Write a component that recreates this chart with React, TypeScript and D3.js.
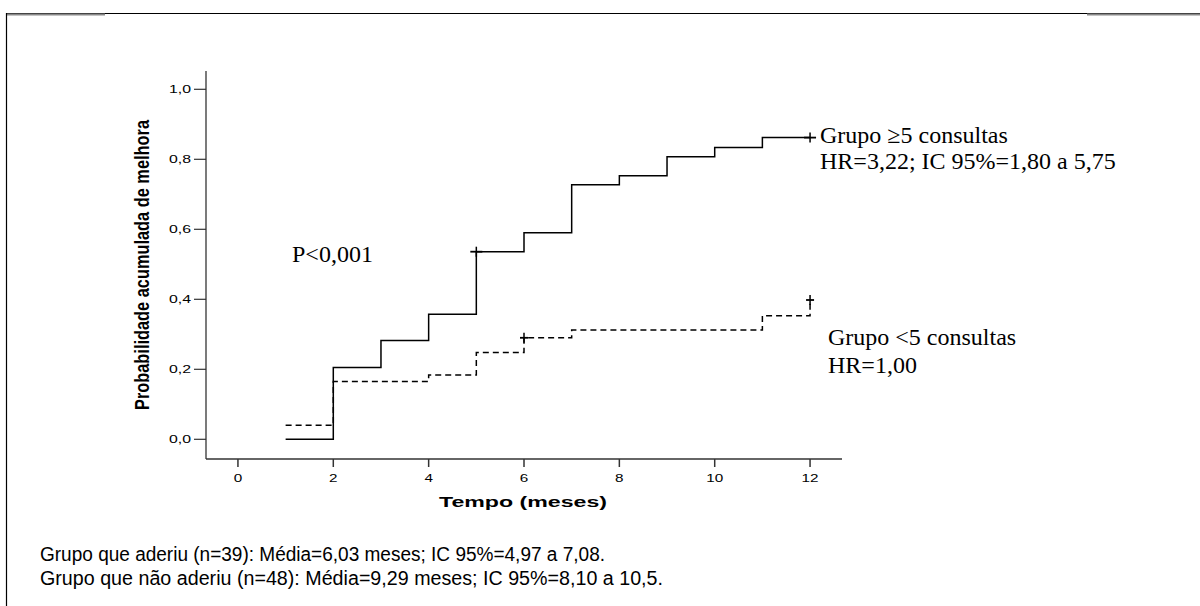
import React, { useEffect, useRef } from "react";
import * as d3 from "d3";

// Kaplan-Meier: probabilidade acumulada de melhora por mês
const months = [1, 2, 3, 4, 5, 6, 7, 8, 9, 10, 11, 12];
const grupoMais5 = [0, 0.205, 0.282, 0.357, 0.536, 0.59, 0.727, 0.753, 0.807, 0.834, 0.862, 0.862];
const grupoMenos5 = [0.04, 0.165, 0.165, 0.184, 0.248, 0.29, 0.312, 0.312, 0.312, 0.312, 0.353, 0.398];
const censorMais5 = [5, 12];
const censorMenos5 = [6, 12];

const xTicks = [0, 2, 4, 6, 8, 10, 12];
const yTicks = [0, 0.2, 0.4, 0.6, 0.8, 1.0];
const yTickLabels = ["0,0", "0,2", "0,4", "0,6", "0,8", "1,0"];

const footLines = [
  "Grupo que aderiu (n=39): Média=6,03 meses; IC 95%=4,97 a 7,08.",
  "Grupo que não aderiu (n=48): Média=9,29 meses; IC 95%=8,10 a 10,5.",
];
const footWidths = [565, 623];

const App = () => {
  const ref = useRef<SVGSVGElement>(null);

  useEffect(() => {
    const svg = d3.select(ref.current);
    svg.selectAll("*").remove();

    const axisColor = "#333";
    const sans = "'Liberation Sans', Arial, sans-serif";
    const serif = "'Liberation Serif', 'Times New Roman', serif";

    // frame
    svg.append("line").attr("x1", 6).attr("x2", 1200).attr("y1", 13.5).attr("y2", 13.5)
      .attr("stroke", "#000").attr("stroke-width", 1.2);
    svg.append("line").attr("x1", 6).attr("x2", 105).attr("y1", 14.5).attr("y2", 14.5)
      .attr("stroke", "#888").attr("stroke-width", 2);
    svg.append("line").attr("x1", 1087).attr("x2", 1200).attr("y1", 14.5).attr("y2", 14.5)
      .attr("stroke", "#888").attr("stroke-width", 2);
    svg.append("line").attr("x1", 6.5).attr("x2", 6.5).attr("y1", 13).attr("y2", 606)
      .attr("stroke", "#000").attr("stroke-width", 1.2);

    const x = d3.scaleLinear().domain([-0.67, 12.67]).range([206, 842]);
    const y = d3.scaleLinear().domain([0, 1]).range([439.3, 89.3]);
    const y0 = 459;

    // axes
    svg.append("line").attr("x1", 206).attr("x2", 206).attr("y1", 71).attr("y2", y0)
      .attr("stroke", axisColor).attr("stroke-width", 1.3);
    svg.append("line").attr("x1", 206).attr("x2", x(12.67)).attr("y1", y0).attr("y2", y0)
      .attr("stroke", axisColor).attr("stroke-width", 1.3);

    const yt = svg.append("g").selectAll("g").data(yTicks).enter().append("g");
    yt.append("line").attr("x1", 194).attr("x2", 206).attr("y1", (d) => y(d)).attr("y2", (d) => y(d))
      .attr("stroke", axisColor).attr("stroke-width", 1.2);
    yt.append("text").attr("x", 191).attr("y", (d) => y(d) + 4)
      .attr("text-anchor", "end").attr("font-family", sans).attr("font-size", 11)
      .attr("textLength", 22).attr("lengthAdjust", "spacingAndGlyphs")
      .text((d, i) => yTickLabels[i]);

    const xt = svg.append("g").selectAll("g").data(xTicks).enter().append("g");
    xt.append("line").attr("x1", (d) => x(d)).attr("x2", (d) => x(d)).attr("y1", y0).attr("y2", y0 + 8)
      .attr("stroke", axisColor).attr("stroke-width", 1.5);
    xt.append("text").attr("x", (d) => x(d)).attr("y", 482)
      .attr("text-anchor", "middle").attr("font-family", sans).attr("font-size", 11.5)
      .attr("textLength", (d) => String(d).length * 8.5).attr("lengthAdjust", "spacingAndGlyphs")
      .text((d) => d);

    // axis titles
    svg.append("text").attr("x", 523).attr("y", 507).attr("text-anchor", "middle")
      .attr("font-family", sans).attr("font-weight", "bold").attr("font-size", 15.5)
      .attr("textLength", 168).attr("lengthAdjust", "spacingAndGlyphs")
      .text("Tempo (meses)");
    svg.append("text").attr("transform", "translate(149,265) rotate(-90) scale(1,1.45)")
      .attr("text-anchor", "middle")
      .attr("font-family", sans).attr("font-weight", "bold").attr("font-size", 14.5)
      .attr("textLength", 290).attr("lengthAdjust", "spacingAndGlyphs")
      .text("Probabilidade acumulada de melhora");

    // curves
    const line = d3.line<number>()
      .x((d, i) => x(months[i]))
      .y((d) => y(d))
      .curve(d3.curveStepAfter);

    svg.append("path").attr("d", line(grupoMais5)).attr("fill", "none")
      .attr("stroke", "#000").attr("stroke-width", 1.5);
    svg.append("path").attr("d", line(grupoMenos5)).attr("fill", "none")
      .attr("stroke", "#000").attr("stroke-width", 1.5).attr("stroke-dasharray", "6,4");

    const censor = (times: number[], vals: number[], size: number) => {
      times.forEach((t) => {
        const v = vals[months.indexOf(t)];
        svg.append("line").attr("x1", x(t) - size).attr("x2", x(t) + size).attr("y1", y(v)).attr("y2", y(v))
          .attr("stroke", "#000").attr("stroke-width", 1.8);
        svg.append("line").attr("x1", x(t)).attr("x2", x(t)).attr("y1", y(v) - 5).attr("y2", y(v) + 5)
          .attr("stroke", "#000").attr("stroke-width", 1.5);
      });
    };
    censor(censorMais5, grupoMais5, 6);
    censor(censorMenos5, grupoMenos5, 4);

    // annotations
    const note = (tx: number, ty: number, s: string) =>
      svg.append("text").attr("x", tx).attr("y", ty).attr("font-family", serif)
        .attr("font-size", 24).text(s);
    note(292, 262, "P<0,001");
    note(820, 142.5, "Grupo \u22655 consultas");
    note(820, 169, "HR=3,22; IC 95%=1,80 a 5,75");
    note(828, 345, "Grupo <5 consultas");
    note(828, 372.5, "HR=1,00");

    svg.append("g").selectAll("text").data(footLines).enter().append("text")
      .attr("x", 40).attr("y", (d, i) => 561 + i * 23.5)
      .attr("font-family", sans).attr("font-size", 20)
      .attr("textLength", (d, i) => footWidths[i]).attr("lengthAdjust", "spacingAndGlyphs")
      .text((d) => d);
  }, []);

  return (
    <svg ref={ref} width={1200} height={606}
      style={{ position: "absolute", left: 0, top: 0, background: "#fff" }} />
  );
};

export default App;
